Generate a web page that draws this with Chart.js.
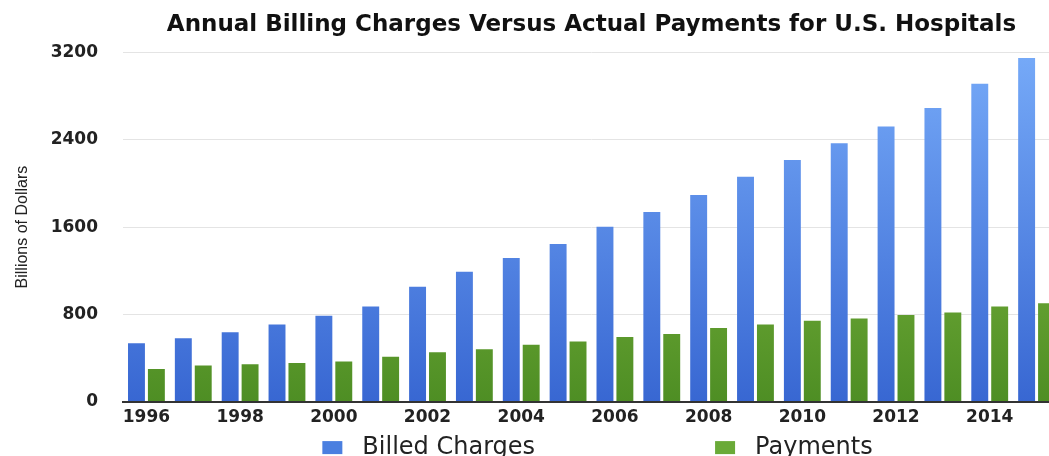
<!DOCTYPE html>
<html lang="en">
<head>
  <meta charset="UTF-8">
  <title>Annual Billing Charges Versus Actual Payments for U.S. Hospitals</title>
  <script src="https://cdn.jsdelivr.net/npm/chart.js"></script>
  <style>
    html, body {
      margin: 0;
      padding: 0;
      background: #fff;
      overflow: hidden;
    }
    .wrap {
      width: 1064px;
      height: 456px;
    }
  </style>
</head>
<body>
  <div class="wrap">
    <canvas id="billingChart"></canvas>
  </div>

  <script>
    const years = ['1996', '1997', '1998', '1999', '2000', '2001', '2002', '2003', '2004', '2005',
                   '2006', '2007', '2008', '2009', '2010', '2011', '2012', '2013', '2014', '2015'];
    // billions of dollars
    const billedCharges = [534, 580, 635, 706, 788, 871, 1054, 1191, 1317, 1445,
                           1604, 1738, 1894, 2062, 2215, 2368, 2523, 2692, 2915, 3150];
    const payments = [300, 330, 342, 355, 367, 412, 452, 480, 522, 550,
                      593, 620, 675, 706, 742, 763, 795, 816, 873, 901];
    const yTicks = [0, 800, 1600, 2400, 3200];

    // vertical gradient over the plot area, lighter at the top
    function barGradient(top, bottom) {
      return (ctx) => {
        const area = ctx.chart.chartArea;
        if (!area) return bottom;
        const g = ctx.chart.ctx.createLinearGradient(0, area.top, 0, area.bottom);
        g.addColorStop(0, top);
        g.addColorStop(1, bottom);
        return g;
      };
    }

    // legend drawn under the year labels, two spaced-out items
    const spreadLegend = {
      id: 'spreadLegend',
      afterDraw(chart) {
        const { ctx, chartArea } = chart;
        const gap = 180, box = 20, boxH = 13, textGap = 20;
        ctx.save();
        ctx.font = '24px "DejaVu Sans"';
        ctx.textBaseline = 'middle';
        const items = chart.data.datasets.map(ds => ({
          text: ds.label,
          color: ds.legendColor,
          w: box + textGap + ctx.measureText(ds.label).width
        }));
        const total = items.reduce((s, it) => s + it.w, 0) + gap * (items.length - 1);
        let x = (chartArea.left + chartArea.right) / 2 + 6 - total / 2;
        const y = chartArea.bottom + 46;
        items.forEach(it => {
          ctx.fillStyle = it.color;
          ctx.fillRect(x, y - boxH / 2, box, boxH);
          ctx.fillStyle = '#222';
          ctx.fillText(it.text, x + box + textGap, y);
          x += it.w + gap;
        });
        ctx.restore();
      }
    };

    new Chart(document.getElementById('billingChart'), {
      type: 'bar',
      data: {
        labels: years,
        datasets: [
          {
            label: 'Billed Charges',
            data: billedCharges,
            backgroundColor: barGradient('#76aaf8', '#3867d2'),
            legendColor: '#4a7fe0'
          },
          {
            label: 'Payments',
            data: payments,
            backgroundColor: barGradient('#93c64c', '#4e8e24'),
            legendColor: '#6aaa38'
          }
        ]
      },
      options: {
        responsive: true,
        maintainAspectRatio: false,
        animation: false,
        categoryPercentage: 0.85,
        barPercentage: 0.85,
        layout: {
          padding: { top: 0, left: 3, right: 4, bottom: 22 }
        },
        plugins: {
          legend: { display: false },
          tooltip: { enabled: false },
          title: {
            display: true,
            fullSize: false,
            text: 'Annual Billing Charges Versus Actual Payments for U.S. Hospitals',
            color: '#111',
            font: { family: 'DejaVu Sans', size: 23, weight: 'bold' },
            padding: { top: 11, bottom: 14 }
          }
        },
        scales: {
          x: {
            grid: { display: false, drawTicks: false },
            border: { display: true, color: '#333', width: 2 },
            ticks: {
              autoSkip: false,
              maxRotation: 0,
              padding: 6,
              color: '#222',
              font: { family: 'DejaVu Sans', size: 17, weight: 'bold' },
              callback: function (value, index) {
                return index % 2 === 0 ? this.getLabelForValue(value) : '';
              }
            }
          },
          y: {
            min: yTicks[0],
            max: yTicks[yTicks.length - 1],
            afterBuildTicks: (scale) => {
              scale.ticks = yTicks.map(v => ({ value: v }));
            },
            // fixed gutter for the axis title and labels
            afterFit: (scale) => {
              scale.width = 120;
            },
            grid: { color: '#e4e4e4', lineWidth: 1, drawTicks: false },
            border: { display: false },
            ticks: {
              padding: 25,
              color: '#222',
              font: { family: 'DejaVu Sans', size: 17, weight: 'bold' },
              callback: (value) => String(value)
            },
            title: {
              display: true,
              text: 'Billions of Dollars',
              color: '#222',
              font: { family: 'Liberation Sans', size: 16 },
              padding: { top: 10, bottom: 18 }
            }
          }
        }
      },
      plugins: [spreadLegend]
    });
  </script>
</body>
</html>
